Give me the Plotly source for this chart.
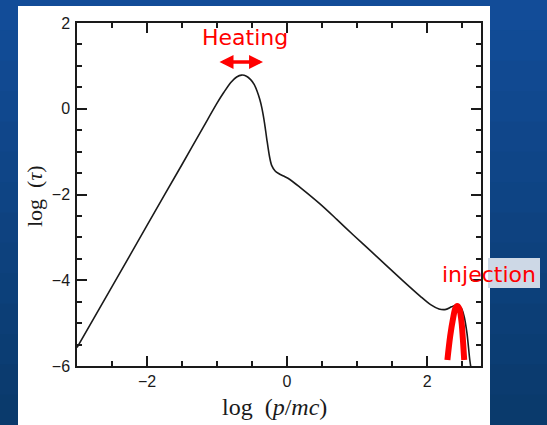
import plotly.graph_objects as go

# ---- data ----
log_p = [-3.0, -2.5, -2.0, -1.5, -1.2, -1.0, -0.90, -0.80, -0.72, -0.65, -0.58,
         -0.52, -0.47, -0.43, -0.39, -0.36, -0.32, -0.29, -0.25, -0.22, -0.17, -0.12, -0.05,
         0.04, 0.19, 0.47, 0.71, 0.95, 1.19, 1.42, 1.66, 1.90,
         2.05, 2.17, 2.27, 2.35, 2.43, 2.49, 2.53, 2.57, 2.61, 2.63]
log_tau = [-5.57, -4.15, -2.72, -1.30, -0.44, 0.13, 0.39, 0.62, 0.74, 0.785, 0.76,
           0.68, 0.57, 0.42, 0.22, 0.02, -0.35, -0.70, -1.12, -1.32, -1.45, -1.51, -1.57,
           -1.65, -1.84, -2.22, -2.58, -2.95, -3.31, -3.66, -4.02, -4.37,
           -4.57, -4.67, -4.68, -4.62, -4.57, -4.66, -4.85, -5.24, -5.86, -6.08]

inj_x = [2.29, 2.33, 2.37, 2.405, 2.43, 2.46, 2.49, 2.51, 2.53]
inj_y = [-5.86, -5.30, -4.90, -4.65, -4.60, -4.66, -4.95, -5.35, -5.86]

heat_range = [-0.986, -0.343]
heat_level = 1.09

x_range = [-3.0, 2.77]
y_range = [-6.0, 2.0]
x_ticks = [-2, 0, 2]
y_ticks = [-6, -4, -2, 0, 2]


def lab(v):
    return ("\u2212%d" % -v) if v < 0 else "%d" % v


# ---- figure ----
W, H = 547, 425
L, R, T, B = 77, 66, 23, 59
pw, ph = W - L - R, H - T - B


def px(xp):
    return (xp - L) / pw


def py(yp):
    return (H - B - yp) / ph


fig = go.Figure()
fig.add_trace(go.Scatter(x=log_p, y=log_tau, mode="lines",
                         line=dict(color="#1a1a1a", width=1.6, shape="spline", smoothing=0.8),
                         hoverinfo="skip", showlegend=False))
fig.add_trace(go.Scatter(x=inj_x, y=inj_y, mode="lines",
                         line=dict(color="#ff0000", width=6, shape="spline", smoothing=1.0),
                         hoverinfo="skip", showlegend=False))

shapes = []
# blue slide background (vertical gradient)
top_c = (18, 76, 152)
bot_c = (10, 58, 108)
nb = 14
for i in range(nb):
    f = i / (nb - 1)
    c = tuple(int(round(top_c[k] + (bot_c[k] - top_c[k]) * f)) for k in range(3))
    y_top = i * H / nb
    y_bot = (i + 1) * H / nb + 1
    shapes.append(dict(type="rect", xref="paper", yref="paper",
                       x0=px(0), x1=px(W), y0=py(y_bot), y1=py(y_top),
                       fillcolor="rgb(%d,%d,%d)" % c, line=dict(width=0), layer="below"))
# white panel
shapes.append(dict(type="rect", xref="paper", yref="paper",
                   x0=px(18), x1=px(490), y0=py(H + 2), y1=py(6),
                   fillcolor="white", line=dict(width=0), layer="below"))
# light box behind "injection"
shapes.append(dict(type="rect", xref="paper", yref="paper",
                   x0=px(488), x1=px(540), y0=py(288), y1=py(258),
                   fillcolor="#cdd8e6", line=dict(width=0), layer="below"))

C = dict(xanchor="center", yanchor="middle", showarrow=False)
annotations = [
    dict(x=heat_range[1], y=heat_level, ax=heat_range[0], ay=heat_level,
         xref="x", yref="y", axref="x", ayref="y", text="",
         showarrow=True, arrowside="end+start", arrowhead=2,
         arrowwidth=3.5, arrowsize=0.8, arrowcolor="#ff0000"),
    dict(x=px(245), y=py(37), xref="paper", yref="paper", text="Heating",
         font=dict(family="DejaVu Sans", size=22, color="#ff0000"), **C),
    dict(x=px(489), y=py(274), xref="paper", yref="paper", text="injection",
         font=dict(family="DejaVu Sans", size=22, color="#ff0000"), **C),
    dict(x=px(274), y=py(407), xref="paper", yref="paper",
         text="log&nbsp; (<i>p</i>/<i>mc</i>)",
         font=dict(family="Liberation Serif", size=24, color="#1a1a1a"), **C),
    dict(x=px(35), y=py(196), xref="paper", yref="paper",
         text="log&nbsp; (<i>τ</i>)", textangle=-90,
         font=dict(family="Liberation Serif", size=22, color="#1a1a1a"), **C),
]

axis_common = dict(showgrid=False, zeroline=False, showline=True, linecolor="#1a1a1a",
                   linewidth=1.5, mirror="allticks", ticks="inside", ticklen=10,
                   tickwidth=1.5, tickcolor="#1a1a1a",
                   tickfont=dict(family="Liberation Sans", size=16, color="#1a1a1a"),
                   minor=dict(dtick=0.5, tick0=0, ticklen=5, tickwidth=1.5,
                              tickcolor="#1a1a1a", ticks="inside", showgrid=False))

fig.update_xaxes(range=x_range, tickvals=x_ticks, ticktext=[lab(v) for v in x_ticks],
                 **axis_common)
fig.update_yaxes(range=y_range, tickvals=y_ticks, ticktext=[lab(v) for v in y_ticks],
                 ticklabelstandoff=2, **axis_common)

fig.update_layout(width=W, height=H, margin=dict(l=L, r=R, t=T, b=B),
                  paper_bgcolor="rgb(18,76,152)", plot_bgcolor="rgba(0,0,0,0)",
                  shapes=shapes, annotations=annotations, showlegend=False)

fig.write_html("out.html")
